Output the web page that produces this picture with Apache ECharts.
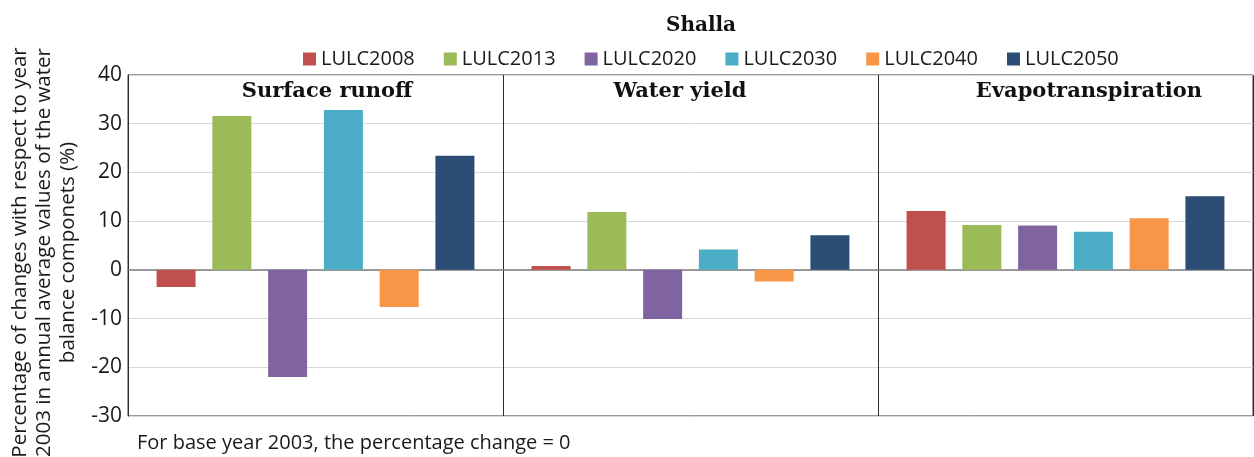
<!DOCTYPE html>
<html>
<head>
<meta charset="utf-8">
<script src="https://cdn.jsdelivr.net/npm/echarts@6/dist/echarts.min.js"></script>
<style>
  html, body { margin: 0; padding: 0; background: #fff; }
  #chart { width: 1254px; height: 457px; }
</style>
</head>
<body>
<div id="chart"></div>
<script>
const chartTitle = 'Shalla';
const categories = ['Surface runoff', 'Water yield', 'Evapotranspiration'];
const seriesNames = ['LULC2008', 'LULC2013', 'LULC2020', 'LULC2030', 'LULC2040', 'LULC2050'];
const lulc2008 = [-3.5, 0.8, 12.1];
const lulc2013 = [31.6, 11.9, 9.2];
const lulc2020 = [-22.0, -10.1, 9.1];
const lulc2030 = [32.8, 4.2, 7.8];
const lulc2040 = [-7.6, -2.4, 10.6];
const lulc2050 = [23.4, 7.1, 15.1];
const yTicks = [-30, -20, -10, 0, 10, 20, 30, 40];
const yAxisTitle = 'Percentage of changes with respect to year\n2003 in annual average values of the water\nbalance componets (%)';
const footNote = 'For base year 2003, the percentage change = 0';

const seriesValues = [lulc2008, lulc2013, lulc2020, lulc2030, lulc2040, lulc2050];
const colors = ['#C0504D', '#9BBB59', '#8064A2', '#4BACC6', '#F79646', '#2C4D75'];
const panelCenters = [327, 680, 1089];

const chart = echarts.init(document.getElementById('chart'), null, { renderer: 'canvas' });

const titles = [
  {
    text: chartTitle,
    left: 701, top: 16, padding: 0,
    textAlign: 'center',
    textStyle: { fontFamily: 'DejaVu Serif', fontWeight: 'bold', fontSize: 20, color: '#111' }
  },
  {
    text: footNote,
    left: 137, top: 433, padding: 0,
    textStyle: { fontFamily: 'Open Sans', fontWeight: 'normal', fontSize: 20, color: '#1a1a1a' }
  }
].concat(categories.map((c, i) => ({
  text: c,
  left: panelCenters[i], top: 81, padding: 0,
  textAlign: 'center',
  textStyle: { fontFamily: 'DejaVu Serif', fontWeight: 'bold', fontSize: 21, color: '#111' }
})));

const option = {
  animation: false,
  color: colors,
  title: titles,
  legend: {
    data: seriesNames,
    left: 298, top: 44,
    itemWidth: 13, itemHeight: 13,
    itemGap: 29,
    icon: 'rect',
    textStyle: { fontFamily: 'Open Sans', fontSize: 20, color: '#1a1a1a' }
  },
  grid: {
    left: 128, right: 1, top: 75, bottom: 41,
    show: true, borderColor: '#3a3a3a', borderWidth: 1,
    containLabel: false,
    outerBoundsMode: 'none'
  },
  xAxis: {
    type: 'category',
    data: categories,
    axisLabel: { show: false },
    axisTick: { show: false },
    axisLine: { show: true, onZero: true, lineStyle: { color: '#7f7f7f', width: 1.5 } },
    splitLine: { show: true, lineStyle: { color: '#2a2a2a', width: 1 } }
  },
  yAxis: {
    type: 'value',
    min: yTicks[0], max: yTicks[yTicks.length - 1], interval: 10,
    name: yAxisTitle,
    nameLocation: 'middle',
    nameRotate: 90,
    nameGap: 41,
    nameTextStyle: { fontFamily: 'Open Sans', fontSize: 20.5, lineHeight: 24, color: '#1a1a1a', align: 'center', padding: [0, 14, 0, 0] },
    axisLine: { show: true, lineStyle: { color: '#2a2a2a', width: 1 } },
    axisTick: { show: false },
    axisLabel: { fontFamily: 'Open Sans', fontSize: 21, color: '#1a1a1a', margin: 6 },
    splitLine: { show: true, lineStyle: { color: '#d9d9d9', width: 1 } }
  },
  series: seriesNames.map((n, i) => ({
    name: n,
    type: 'bar',
    data: seriesValues[i],
    barWidth: 39,
    barGap: '43%',
    itemStyle: { color: colors[i] }
  }))
};
chart.setOption(option);
</script>
</body>
</html>
